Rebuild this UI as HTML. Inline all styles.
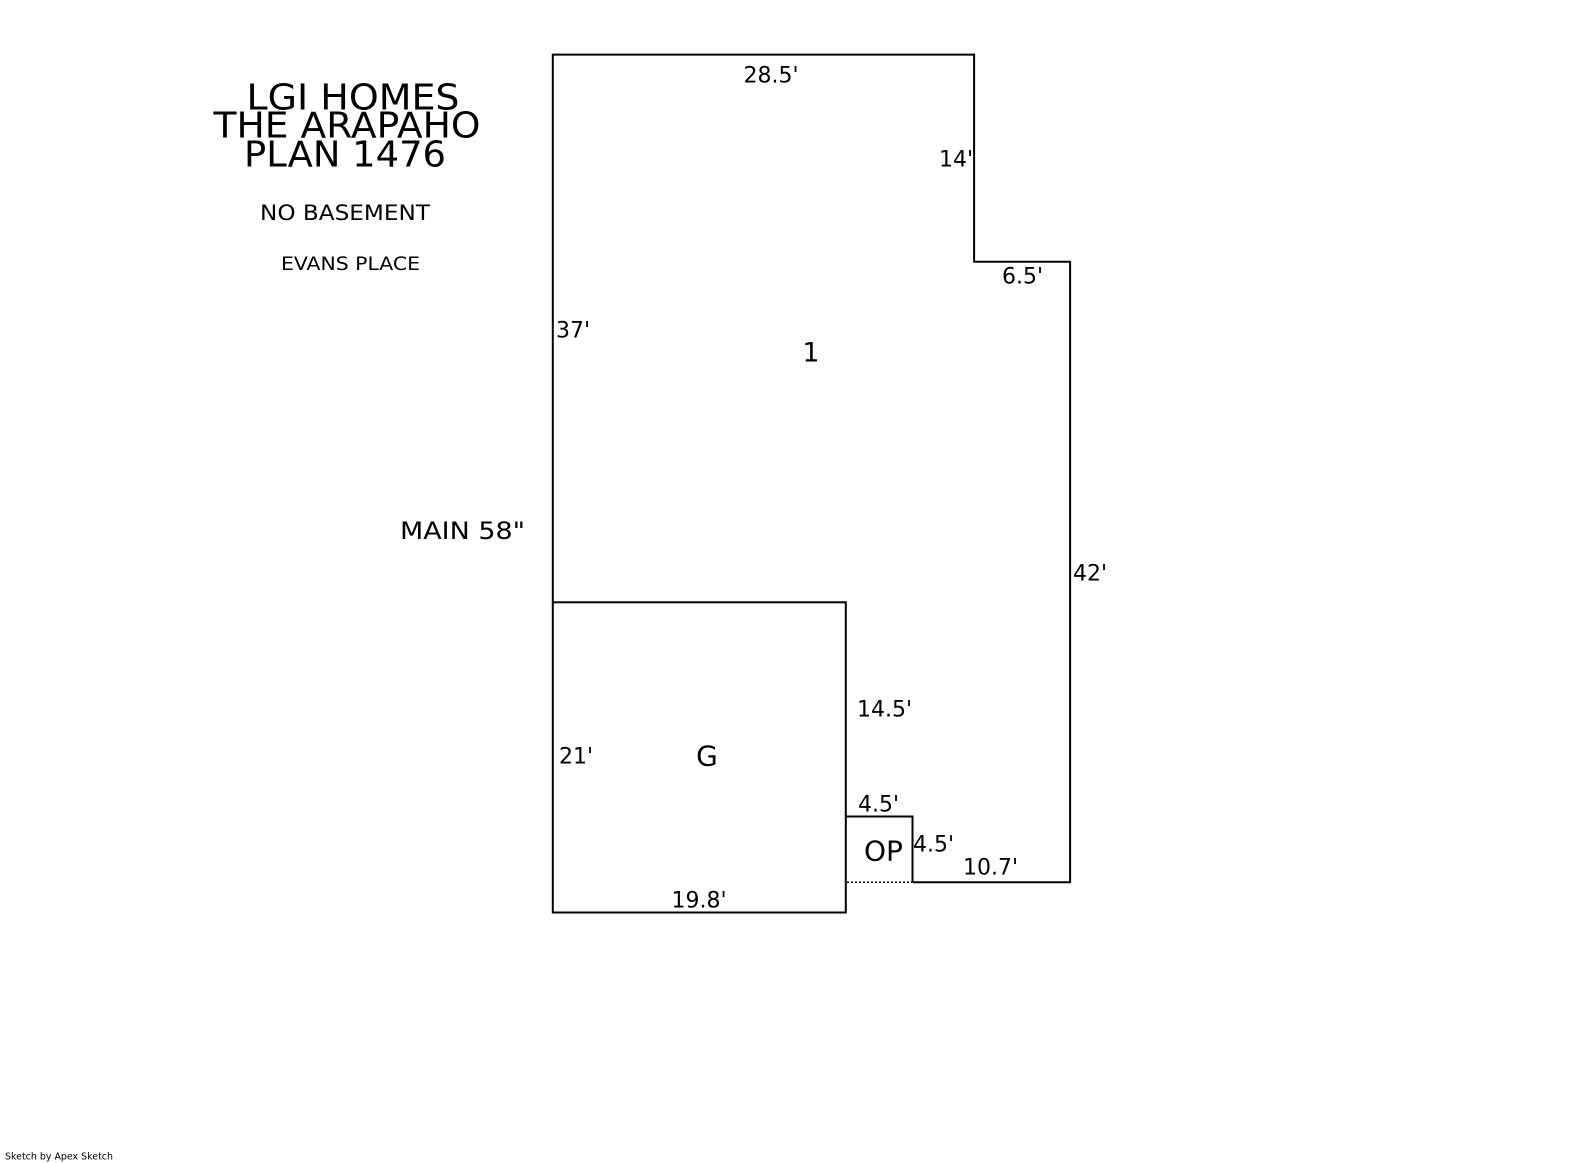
<!DOCTYPE html>
<html><head><meta charset="utf-8"><style>
html,body{margin:0;padding:0;background:#fff;}
svg{display:block;}
text{font-family:"DejaVu Sans","Liberation Sans",sans-serif;fill:#000;dominant-baseline:central;}
</style></head><body>
<svg width="1585" height="1163" viewBox="0 0 1585 1163" xmlns="http://www.w3.org/2000/svg">
<g fill="none" stroke="#000" stroke-width="2">
<polyline points="552.8,602.3 552.8,54.6 974.1,54.6 974.1,261.7 1070.1,261.7 1070.1,882.2 912.5,882.2"/>
<rect x="552.8" y="602.3" width="293" height="310.2"/>
<polyline points="845.8,816.5 912.5,816.5 912.5,882.2"/>
</g>
<line x1="847" y1="882.2" x2="912" y2="882.2" stroke="#000" stroke-width="1.5" stroke-dasharray="2,2"/>
<text x="353" y="98" font-size="36" text-anchor="middle" textLength="213" lengthAdjust="spacingAndGlyphs">LGI HOMES</text>
<text x="347" y="126" font-size="36" text-anchor="middle" textLength="267" lengthAdjust="spacingAndGlyphs">THE ARAPAHO</text>
<text x="345" y="155" font-size="36" text-anchor="middle" textLength="202" lengthAdjust="spacingAndGlyphs">PLAN 1476</text>
<text x="260" y="213" font-size="21" textLength="170" lengthAdjust="spacingAndGlyphs">NO BASEMENT</text>
<text x="281" y="264" font-size="19" textLength="139" lengthAdjust="spacingAndGlyphs">EVANS PLACE</text>
<text x="771" y="76" font-size="22" text-anchor="middle">28.5'</text>
<text x="939" y="160" font-size="22">14'</text>
<text x="1002" y="277" font-size="22">6.5'</text>
<text x="556" y="331" font-size="22">37'</text>
<text x="811" y="353" font-size="27" text-anchor="middle">1</text>
<text x="1073" y="574" font-size="22">42'</text>
<text x="400" y="531" font-size="24" textLength="125" lengthAdjust="spacingAndGlyphs">MAIN 58"</text>
<text x="857" y="710" font-size="22">14.5'</text>
<text x="559" y="757" font-size="22">21'</text>
<text x="707" y="756" font-size="28" text-anchor="middle">G</text>
<text x="858" y="805" font-size="22">4.5'</text>
<text x="864" y="851" font-size="28">OP</text>
<text x="913" y="845" font-size="22">4.5'</text>
<text x="963" y="868" font-size="22">10.7'</text>
<text x="699" y="901" font-size="22" text-anchor="middle">19.8'</text>
<text x="5" y="1157" font-size="10" textLength="108" lengthAdjust="spacingAndGlyphs">Sketch by Apex Sketch</text>
</svg>
</body></html>
